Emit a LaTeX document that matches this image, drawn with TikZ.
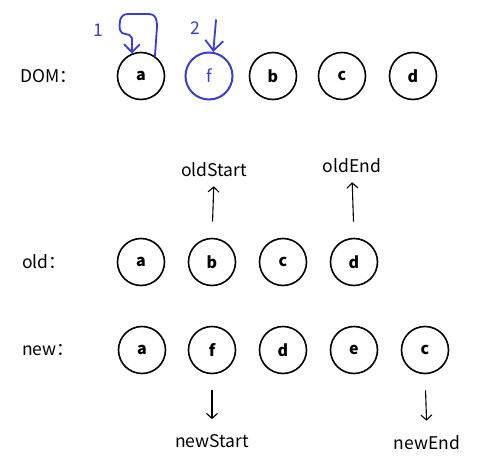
\documentclass[tikz,border=0pt]{standalone}
\usepackage{fontspec}
\setmainfont{Noto Sans CJK SC}
\usetikzlibrary{calc, positioning, arrows.meta}
\definecolor{penblue}{RGB}{60,60,210}

\tikzset{
  elem/.style={circle, draw, line width=1.6pt, minimum size=47pt, inner sep=0pt,
    font=\fontsize{16}{18}\selectfont\bfseries},
  lbl/.style={font=\fontsize{17.5}{20}\selectfont, inner sep=2pt},
  ptr/.style={-{Straight Barb[length=5pt,width=11pt]}, line width=1.1pt},
  pen/.style={penblue, line width=1.8pt, line cap=round, line join=round},
}

\begin{document}
\begin{tikzpicture}[x=1pt, y=-1pt]
  \useasboundingbox (0,0) rectangle (485,466);
  % real DOM
  \node[lbl, anchor=west] (domlbl) at (18,76) {DOM：};
  \node[elem] (dom-a) at (141,76) {a};
  \node[elem, penblue, line width=2pt, text=penblue, font=\fontsize{17}{19}\selectfont] (dom-f) at (209,76) {f};
  \node[elem] (dom-b) at (273,76) {b};
  \node[elem] (dom-c) at (342,76) {c};
  \node[elem] (dom-d) at (413,76) {d};
  % blue hand marks
  \node[lbl, penblue] (mark1) at (98,30) {1};
  \node[lbl, penblue] (mark2) at (195,28) {2};
  \draw[pen, -{Straight Barb[length=8pt,width=16pt]}] (dom-a.55) -- (157,27)
    .. controls (157,12) and (151,14) .. (140,14) -- (128,14)
    .. controls (119,14) and (119,24) .. (120,30)
    .. controls (121,36) and (130,32) .. (132,38) -- (dom-a.112);
  \coordinate (pen2) at (216,20);
  \draw[pen, -{Straight Barb[length=10pt,width=18pt]}] (pen2) -- (dom-f.80);
  % old vnodes
  \node[lbl, anchor=west] (oldlbl) at (20,262) {old：};
  \node[elem] (old-a) at (141,262) {a};
  \node[elem] (old-b) at (212,262) {b};
  \node[elem] (old-c) at (283,262) {c};
  \node[elem] (old-d) at (354,262) {d};
  \node[lbl] (oldstart) at (214,170) {oldStart};
  \node[lbl] (oldend) at (352,166) {oldEnd};
  \draw[ptr, shorten <=16pt, shorten >=7pt] (old-b.north) -- (oldstart.south);
  \draw[ptr, shorten <=16pt, shorten >=7pt] (old-d.north) -- (oldend.south);
  % new vnodes
  \node[lbl, anchor=west] (newlbl) at (20,350) {new：};
  \node[elem] (new-a) at (142,350) {a};
  \node[elem] (new-f) at (212,350) {f};
  \node[elem] (new-d) at (283,350) {d};
  \node[elem] (new-e) at (354,350) {e};
  \node[elem] (new-c) at (425,350) {c};
  \node[lbl] (newstart) at (212,441) {newStart};
  \node[lbl] (newend) at (427,443) {newEnd};
  \draw[ptr, shorten <=16pt, shorten >=13pt] (new-f.south) -- (newstart.north);
  \draw[ptr, shorten <=16pt, shorten >=13pt] (new-c.south) -- (newend.north);
\end{tikzpicture}
\end{document}
